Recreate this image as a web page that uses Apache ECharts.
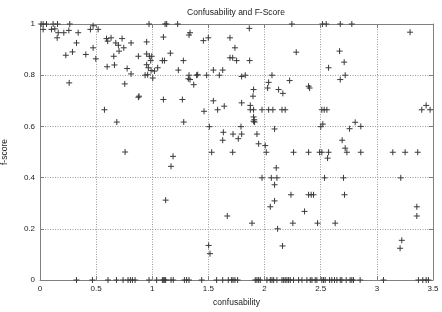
<!DOCTYPE html>
<html>
<head>
<meta charset="utf-8">
<script src="https://cdn.jsdelivr.net/npm/echarts@6/dist/echarts.min.js"></script>
<style>html,body{margin:0;padding:0;background:#fff}#c{width:442px;height:312px}</style>
</head>
<body>
<div id="c"></div>
<script>
// ---- data (confusability, f-score) ----
const confusability = [
  0.01,0.028,0.058,0.117,0.156,0.265,0.473,0.028,0.102,0.132,0.162,0.153,0.212,0.257,0.340,0.449,0.518,
  0.325,0.289,0.230,0.408,0.473,0.497,0.592,0.603,0.633,0.675,0.698,0.704,0.731,0.746,0.657,0.811,0.876,
  0.598,0.663,0.776,0.811,0.260,0.755,0.876,0.882,0.574,0.684,0.758,
  0.971,1.114,1.128,1.226,0.950,1.099,1.336,1.327,1.455,1.499,1.692,1.736,1.692,1.716,1.751,0.950,0.974,
  0.995,0.950,0.986,1.090,1.108,1.161,1.277,0.965,0.989,1.019,1.048,1.232,0.936,0.959,1.004,1.327,1.321,
  1.336,1.404,1.395,1.484,1.544,1.597,1.627,1.796,1.369,1.099,1.268,1.544,1.641,1.582,1.461,1.796,1.280,
  1.508,1.633,1.719,1.796,1.627,1.766,1.790,1.529,1.716,1.185,1.167,1.119,1.668,1.502,1.514,
  2.243,2.549,2.674,2.515,1.864,2.282,1.867,2.668,2.570,1.828,2.066,2.223,2.036,2.027,2.125,2.163,2.392,
  2.401,2.674,2.718,1.902,1.897,1.873,1.902,1.873,1.977,2.036,2.074,2.155,2.184,2.510,2.531,2.555,1.902,
  1.908,1.902,1.911,2.519,2.501,2.089,1.932,1.947,2.006,2.015,2.258,2.392,2.490,2.510,2.570,2.561,2.691,
  2.718,2.104,1.977,2.060,2.110,2.534,2.703,2.089,2.235,2.392,2.415,2.436,2.712,2.089,2.051,2.356,1.888,
  2.252,2.472,2.629,2.116,2.160,
  2.777,3.296,2.709,2.733,2.807,2.757,2.857,2.857,3.142,3.252,3.364,3.213,3.356,3.356,3.400,3.439,3.474,
  3.222,3.207,
  // f-score = 0 points
  0.325,0.467,0.606,0.681,0.740,0.784,0.805,0.823,0.847,
  0.971,1.039,1.090,1.102,1.111,1.119,1.167,1.187,1.286,1.306,1.327,1.440,1.573,1.627,1.677,1.707,1.719,
  1.736,1.760,
  1.917,1.932,1.947,1.962,2.021,2.051,2.066,2.081,2.110,2.155,2.170,2.184,2.199,2.214,2.229,2.258,2.303,
  2.333,2.377,2.407,2.422,2.451,2.466,2.510,2.525,2.540,2.579,2.599,2.623,2.644,2.674,
  2.688,2.727,2.762,2.777,2.792,2.851,3.059,3.370,3.409,3.439,3.459
];
const fScore = [
  1,1,1,1,1,1,0.993,0.979,0.979,0.981,0.966,0.946,0.966,0.975,0.966,0.979,0.979,
  0.926,0.891,0.878,0.881,0.907,0.864,0.943,0.933,0.946,0.926,0.917,0.894,0.943,0.907,0.874,0.926,0.874,
  0.833,0.840,0.826,0.805,0.770,0.766,0.714,0.718,0.665,0.617,0.500,
  1,1,1,1,0.930,0.949,0.966,0.957,0.935,0.946,0.946,0.907,0.868,0.868,0.857,0.883,0.874,
  0.874,0.841,0.857,0.857,0.857,0.886,0.857,0.829,0.818,0.816,0.829,0.820,0.800,0.802,0.789,0.800,0.786,
  0.783,0.802,0.800,0.800,0.820,0.800,0.820,0.795,0.763,0.705,0.705,0.700,0.679,0.665,0.659,0.692,0.617,
  0.599,0.577,0.570,0.570,0.546,0.552,0.599,0.499,0.499,0.483,0.444,0.312,0.250,0.135,0.103,
  1,1,1,1,0.983,0.890,0.857,0.894,0.829,0.800,0.800,0.779,0.772,0.750,0.744,0.729,0.757,
  0.750,0.783,0.800,0.744,0.718,0.682,0.665,0.665,0.665,0.665,0.665,0.665,0.665,0.665,0.665,0.665,0.637,
  0.626,0.620,0.617,0.609,0.599,0.590,0.570,0.532,0.525,0.499,0.499,0.499,0.499,0.499,0.499,0.476,0.546,
  0.515,0.438,0.399,0.399,0.399,0.399,0.399,0.372,0.333,0.333,0.333,0.333,0.333,0.309,0.286,0.268,0.222,
  0.222,0.222,0.222,0.200,0.133,
  1,0.968,0.851,0.499,0.616,0.591,0.600,0.499,0.499,0.499,0.499,0.399,0.286,0.250,0.665,0.682,0.665,
  0.155,0.124,
  0,0,0,0,0,0,0,0,0,
  0,0,0,0,0,0,0,0,0,0,0,0,0,0,0,0,0,
  0,0,
  0,0,0,0,0,0,0,0,0,0,0,0,0,0,0,0,0,
  0,0,0,0,0,0,0,0,0,0,0,0,0,0,
  0,0,0,0,0,0,0,0,0,0,0
];
const xTickLabels = ['0','0.5','1','1.5','2','2.5','3','3.5'];
const yTickLabels = ['0','0.2','0.4','0.6','0.8','1'];

const titleText = 'Confusability and F-Score';
const xName = 'confusability';
const yName = 'f-score';

const points = confusability.map((x, i) => [x, fScore[i]]);

const FONT = 'Liberation Sans, Arial, sans-serif';
const axisColor = '#808080';
const gridLine = { show: true, lineStyle: { color: '#9a9a9a', type: [1, 1.5], width: 1 } };

const chart = echarts.init(document.getElementById('c'), null, { renderer: 'canvas' });
chart.setOption({
  animation: false,
  backgroundColor: '#fff',
  title: {
    text: titleText, left: 236, top: 8, padding: 0, textAlign: 'center',
    textStyle: { fontFamily: FONT, fontSize: 8.5, fontWeight: 'normal', color: '#222' }
  },
  grid: { left: 40, top: 24, width: 393, height: 256, containLabel: false, outerBoundsMode: 'none' },
  xAxis: [{
    type: 'value', min: 0, max: 3.5, interval: 0.5, position: 'bottom',
    name: xName, nameLocation: 'middle', nameGap: 18,
    nameTextStyle: { fontFamily: FONT, fontSize: 8.5, color: '#222' },
    axisLine: { show: true, onZero: false, lineStyle: { color: axisColor, width: 1 } },
    axisTick: { show: true, inside: true, length: 4, lineStyle: { color: axisColor } },
    axisLabel: { fontFamily: FONT, fontSize: 8, color: '#222', margin: 5,
      formatter: (v) => xTickLabels[Math.round(v / 0.5)] },
    splitLine: gridLine
  }, {
    type: 'value', min: 0, max: 3.5, interval: 0.5, position: 'top',
    axisLine: { show: true, onZero: false, lineStyle: { color: axisColor, width: 1 } },
    axisTick: { show: true, inside: true, length: 4, lineStyle: { color: axisColor } },
    axisLabel: { show: false }, splitLine: { show: false }
  }],
  yAxis: [{
    type: 'value', min: 0, max: 1, interval: 0.2, position: 'left',
    name: yName, nameLocation: 'middle', nameGap: 31,
    nameTextStyle: { fontFamily: FONT, fontSize: 8.5, color: '#222' },
    axisLine: { show: true, onZero: false, lineStyle: { color: axisColor, width: 1 } },
    axisTick: { show: true, inside: true, length: 4, lineStyle: { color: axisColor } },
    axisLabel: { fontFamily: FONT, fontSize: 8, color: '#222', margin: 5,
      formatter: (v) => yTickLabels[Math.round(v / 0.2)] },
    splitLine: gridLine
  }, {
    type: 'value', min: 0, max: 1, interval: 0.2, position: 'right',
    axisLine: { show: true, onZero: false, lineStyle: { color: axisColor, width: 1 } },
    axisTick: { show: true, inside: true, length: 4, lineStyle: { color: axisColor } },
    axisLabel: { show: false }, splitLine: { show: false }
  }],
  series: [{
    type: 'scatter', xAxisIndex: 0, yAxisIndex: 0,
    data: points,
    clip: false,
    symbol: 'path://M0,5L10,5M5,0L5,10',
    symbolSize: 6,
    itemStyle: { color: 'rgba(0,0,0,0)', borderColor: '#3a3a3a', borderWidth: 1, opacity: 1 }
  }]
});
</script>
</body>
</html>
